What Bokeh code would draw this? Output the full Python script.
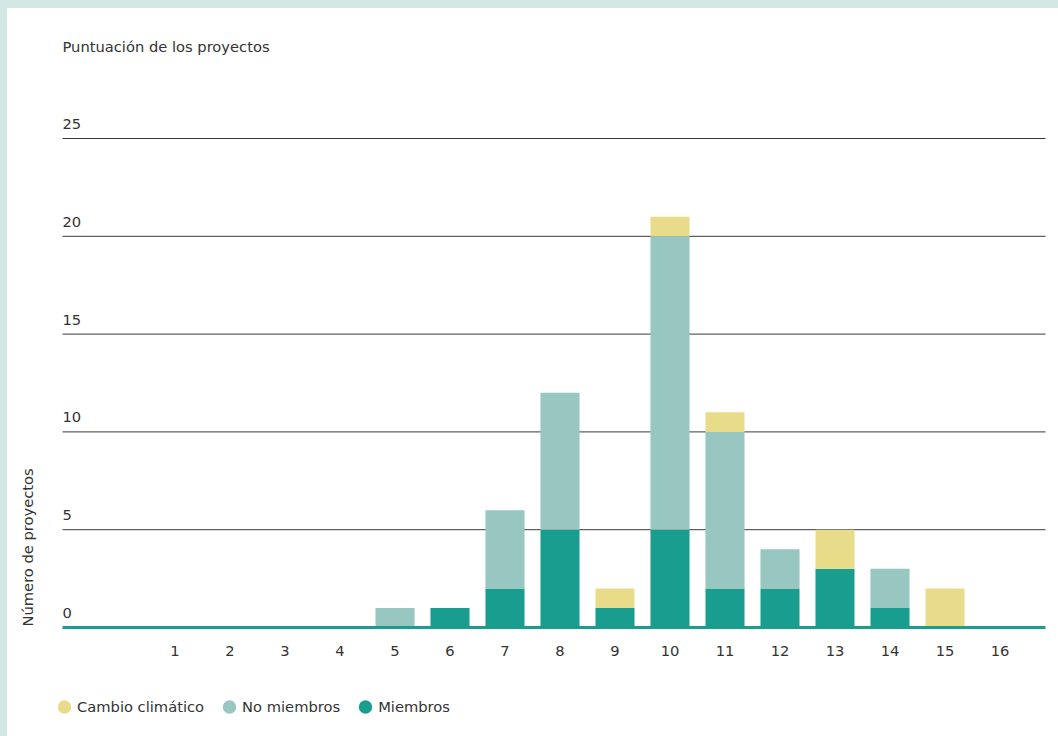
import math
from bokeh.plotting import figure
from bokeh.models import ColumnDataSource, Range1d, Legend, LegendItem
from bokeh.core.properties import value
from bokeh.embed import file_html
from bokeh.resources import INLINE

# ---- data ----
scores = [1, 2, 3, 4, 5, 6, 7, 8, 9, 10, 11, 12, 13, 14, 15, 16]
miembros = [0, 0, 0, 0, 0, 1, 2, 5, 1, 5, 2, 2, 3, 1, 0, 0]
no_miembros = [0, 0, 0, 0, 1, 0, 4, 7, 0, 15, 8, 2, 0, 2, 0, 0]
cambio_climatico = [0, 0, 0, 0, 0, 0, 0, 0, 1, 1, 1, 0, 2, 0, 2, 0]
y_ticks = [0, 5, 10, 15, 20, 25]
y_tick_labels = ["0", "5", "10", "15", "20", "25"]
x_tick_labels = [str(s) for s in scores]
series_names = ["Miembros", "No miembros", "Cambio climático"]
title_text = "Puntuación de los proyectos"
y_title_text = "Número de proyectos"

# ---- style / layout (pixels) ----
C_M = "#199d8f"
C_NM = "#98c6c0"
C_CC = "#e8dc8b"
TXT = "#333333"
FONT = "DejaVu Sans"
FS = "14.7px"
W, H = 1058, 736
PX_X1 = 174.5      # pixel centre of score 1
PX_STEP = 55.0     # pixels per score
PX_Y0 = 627.0      # pixel of value 0
PX_UNIT = 19.56    # pixels per project
GRID_L, GRID_R = 62, 1045


def to_x(px):
    return 1 + (px - PX_X1) / PX_STEP


def to_y(py):
    return (PX_Y0 - py) / PX_UNIT


src = ColumnDataSource(dict(score=scores, m=miembros, nm=no_miembros, cc=cambio_climatico))

p = figure(width=W, height=H, output_backend="svg", toolbar_location=None,
           x_range=Range1d(to_x(0), to_x(W)), y_range=Range1d(to_y(H), to_y(0)),
           x_axis_location=None, y_axis_location=None, min_border=0,
           styles={"background-color": "white",
                   "box-shadow": "inset 7px 8px 0 0 #d3e8e5"})
p.outline_line_color = None
p.background_fill_color = None
p.border_fill_color = None
p.grid.visible = False

# horizontal grid lines
gx0 = to_x(GRID_L)
gx1 = to_x(GRID_R)
p.segment(x0=[gx0] * (len(y_ticks) - 1), x1=[gx1] * (len(y_ticks) - 1),
          y0=y_ticks[1:], y1=y_ticks[1:], line_color="#3a3a3a", line_width=1)

# bars
p.vbar_stack(["m", "nm", "cc"], x="score", width=0.71, color=[C_M, C_NM, C_CC],
             line_color=None, source=src)

# baseline
p.segment(x0=[gx0], x1=[gx1], y0=[0], y1=[0], line_color=C_M, line_width=3)

# y tick labels above the grid lines
p.text(x=[gx0] * len(y_ticks), y=y_ticks, text=y_tick_labels, text_align="left",
       text_baseline="alphabetic", y_offset=-14.5, text_font=value(FONT),
       text_font_size=FS, text_color=TXT)

# x tick labels
p.text(x=scores, y=[0] * len(scores), text=x_tick_labels, text_align="center",
       text_baseline="alphabetic", y_offset=23.2, text_font=value(FONT),
       text_font_size=FS, text_color=TXT)

# title
p.text(x=[gx0], y=[to_y(46.3)], text=[title_text], text_align="left",
       text_baseline="alphabetic", text_font=value(FONT), text_font_size=FS,
       text_color=TXT)

# y title (rotated)
p.text(x=[to_x(26.5)], y=[to_y(626)], text=[y_title_text], angle=math.pi / 2,
       text_align="left", text_baseline="alphabetic", text_font=value(FONT),
       text_font_size=FS, text_color=TXT)

# legend (renderers only used for their circle marker, drawn off-canvas)
items = []
off = [to_x(-200)]
for name, col in [(series_names[2], C_CC), (series_names[1], C_NM), (series_names[0], C_M)]:
    r = p.scatter(x=off, y=[0], marker="circle", size=14, fill_color=col,
                  line_color=col, line_width=3)
    items.append(LegendItem(label=name, renderers=[r]))
legend = Legend(items=items, orientation="horizontal", location=(51, H - 723.5),
                glyph_width=26, glyph_height=35, label_standoff=0, spacing=12,
                padding=0, margin=0, border_line_color=None, background_fill_alpha=0,
                label_text_font=FONT, label_text_font_size=FS, label_text_color=TXT)
p.add_layout(legend)

open("out.html", "w").write(file_html(p, INLINE))
